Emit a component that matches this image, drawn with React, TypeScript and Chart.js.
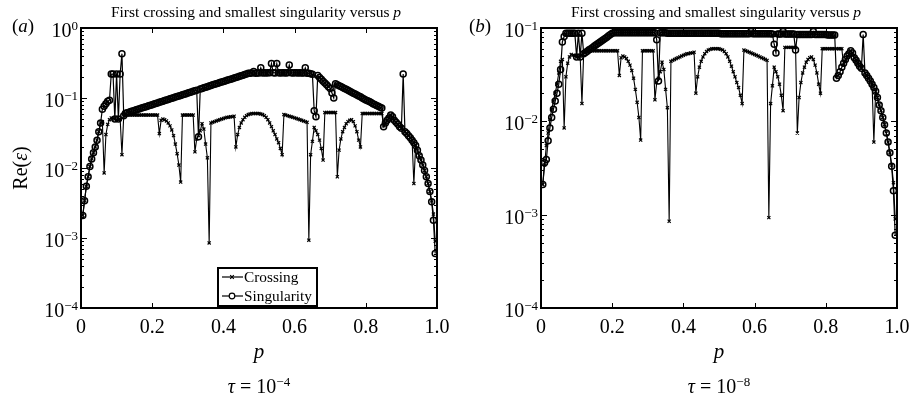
import React, { useEffect, useRef } from "react";
import { Chart, registerables } from "chart.js";

Chart.register(...registerables);

// Sampling grid in p
const P = [
  0.005, 0.01, 0.015, 0.02, 0.025, 0.03, 0.035, 0.04, 0.045, 0.05,
  0.055, 0.06, 0.065, 0.07, 0.075, 0.08, 0.085, 0.09, 0.095, 0.1,
  0.105, 0.11, 0.115, 0.12, 0.125, 0.13, 0.135, 0.14, 0.145, 0.15,
  0.155, 0.16, 0.165, 0.17, 0.175, 0.18, 0.185, 0.19, 0.195, 0.2,
  0.205, 0.21, 0.215, 0.22, 0.225, 0.23, 0.235, 0.24, 0.245, 0.25,
  0.255, 0.26, 0.265, 0.27, 0.275, 0.28, 0.285, 0.29, 0.295, 0.3,
  0.305, 0.31, 0.315, 0.32, 0.325, 0.33, 0.335, 0.34, 0.345, 0.35,
  0.355, 0.36, 0.365, 0.37, 0.375, 0.38, 0.385, 0.39, 0.395, 0.4,
  0.405, 0.41, 0.415, 0.42, 0.425, 0.43, 0.435, 0.44, 0.445, 0.45,
  0.455, 0.46, 0.465, 0.47, 0.475, 0.48, 0.485, 0.49, 0.495, 0.5,
  0.505, 0.51, 0.515, 0.52, 0.525, 0.53, 0.535, 0.54, 0.545, 0.55,
  0.555, 0.56, 0.565, 0.57, 0.575, 0.58, 0.585, 0.59, 0.595, 0.6,
  0.605, 0.61, 0.615, 0.62, 0.625, 0.63, 0.635, 0.64, 0.645, 0.65,
  0.655, 0.66, 0.665, 0.67, 0.675, 0.68, 0.685, 0.69, 0.695, 0.7,
  0.705, 0.71, 0.715, 0.72, 0.725, 0.73, 0.735, 0.74, 0.745, 0.75,
  0.755, 0.76, 0.765, 0.77, 0.775, 0.78, 0.785, 0.79, 0.795, 0.8,
  0.805, 0.81, 0.815, 0.82, 0.825, 0.83, 0.835, 0.84, 0.845, 0.85,
  0.855, 0.86, 0.865, 0.87, 0.875, 0.88, 0.885, 0.89, 0.895, 0.9,
  0.905, 0.91, 0.915, 0.92, 0.925, 0.93, 0.935, 0.94, 0.945, 0.95,
  0.955, 0.96, 0.965, 0.97, 0.975, 0.98, 0.985, 0.99, 0.995,
];

// First crossing (same for both tolerances)
const CROSSING = [
  0.0021, 0.0034, 0.0055, 0.0075, 0.0105, 0.0135, 0.0165, 0.02, 0.025, 0.033,
  0.044, 0.046, 0.0085, 0.03, 0.042, 0.049, 0.052, 0.051, 0.05, 0.049,
  0.049, 0.05, 0.0155, 0.055, 0.057, 0.057, 0.057, 0.057, 0.057, 0.057,
  0.057, 0.057, 0.057, 0.057, 0.057, 0.057, 0.057, 0.057, 0.057, 0.057,
  0.057, 0.057, 0.057, 0.031, 0.048, 0.05, 0.049, 0.047, 0.044, 0.04,
  0.035, 0.029, 0.022, 0.016, 0.011, 0.0063, 0.057, 0.057, 0.057, 0.057,
  0.057, 0.057, 0.057, 0.017, 0.026, 0.029, 0.034, 0.043, 0.036, 0.022,
  0.014, 0.00085, 0.044, 0.045, 0.046, 0.047, 0.048, 0.049, 0.05, 0.051,
  0.052, 0.053, 0.053, 0.054, 0.054, 0.055, 0.02, 0.03, 0.038, 0.044,
  0.049, 0.053, 0.056, 0.058, 0.059, 0.06, 0.06, 0.06, 0.06, 0.06,
  0.059, 0.058, 0.056, 0.053, 0.049, 0.044, 0.039, 0.034, 0.03, 0.026,
  0.023, 0.019, 0.0155, 0.058, 0.057, 0.056, 0.055, 0.054, 0.053, 0.052,
  0.051, 0.05, 0.049, 0.048, 0.047, 0.046, 0.045, 0.00093, 0.0155, 0.024,
  0.038, 0.034, 0.03, 0.025, 0.019, 0.013, 0.062, 0.062, 0.062, 0.062,
  0.062, 0.062, 0.062, 0.0075, 0.018, 0.026, 0.033, 0.038, 0.043, 0.046,
  0.048, 0.049, 0.046, 0.04, 0.033, 0.025, 0.02, 0.06, 0.06, 0.06,
  0.06, 0.06, 0.06, 0.06, 0.06, 0.06, 0.06, 0.06, 0.06, 0.04,
  0.044, 0.048, 0.052, 0.057, 0.054, 0.048, 0.045, 0.042, 0.039, 0.037,
  0.035, 0.033, 0.031, 0.029, 0.027, 0.025, 0.006, 0.021, 0.018, 0.015,
  0.013, 0.011, 0.0092, 0.0075, 0.006, 0.0046, 0.0034, 0.0022, 0.0009,
];

// Smallest singularity, tau = 1e-4
const SING_TAU4 = [
  0.0021, 0.0034, 0.0055, 0.0075, 0.0105, 0.0135, 0.0165, 0.02, 0.025, 0.033,
  0.044, 0.069, 0.076, 0.083, 0.09, 0.093, 0.22, 0.22, 0.05, 0.22,
  0.05, 0.22, 0.43, 0.056, 0.0604, 0.0615, 0.0627, 0.0639, 0.0651, 0.0664,
  0.0677, 0.069, 0.0703, 0.0717, 0.0731, 0.0744, 0.0759, 0.0773, 0.0788, 0.0803,
  0.0819, 0.0835, 0.0851, 0.0867, 0.0884, 0.0901, 0.0918, 0.0936, 0.0954, 0.0972,
  0.0991, 0.101, 0.103, 0.105, 0.107, 0.109, 0.111, 0.113, 0.115, 0.118,
  0.12, 0.122, 0.125, 0.127, 0.129, 0.028, 0.134, 0.137, 0.14, 0.142,
  0.145, 0.148, 0.151, 0.154, 0.157, 0.16, 0.163, 0.166, 0.169, 0.172,
  0.175, 0.179, 0.182, 0.186, 0.189, 0.193, 0.197, 0.2, 0.204, 0.208,
  0.212, 0.216, 0.221, 0.225, 0.226, 0.227, 0.24, 0.226, 0.227, 0.228,
  0.27, 0.228, 0.229, 0.228, 0.229, 0.23, 0.31, 0.229, 0.228, 0.31,
  0.229, 0.228, 0.23, 0.229, 0.228, 0.23, 0.295, 0.229, 0.228, 0.23,
  0.229, 0.228, 0.229, 0.228, 0.227, 0.27, 0.226, 0.225, 0.222, 0.218,
  0.066, 0.054, 0.21, 0.197, 0.185, 0.174, 0.164, 0.154, 0.145, 0.137,
  0.118, 0.1, 0.16, 0.155, 0.15, 0.146, 0.141, 0.137, 0.133, 0.129,
  0.125, 0.121, 0.117, 0.114, 0.11, 0.107, 0.104, 0.1, 0.097, 0.094,
  0.091, 0.089, 0.086, 0.083, 0.081, 0.078, 0.076, 0.074, 0.072, 0.039,
  0.044, 0.048, 0.052, 0.057, 0.054, 0.048, 0.045, 0.042, 0.039, 0.037,
  0.22, 0.033, 0.031, 0.029, 0.027, 0.025, 0.023, 0.021, 0.018, 0.015,
  0.013, 0.011, 0.0092, 0.0075, 0.006, 0.0046, 0.0033, 0.0018, 0.0006,
];

// Smallest singularity, tau = 1e-8
const SING_TAU8 = [
  0.0021, 0.0036, 0.0039, 0.0062, 0.0085, 0.011, 0.0135, 0.0165, 0.02, 0.025,
  0.036, 0.071, 0.081, 0.088, 0.088, 0.088, 0.088, 0.088, 0.088, 0.049,
  0.088, 0.049, 0.088, 0.053, 0.0547, 0.0565, 0.0583, 0.0601, 0.062, 0.064,
  0.0661, 0.0682, 0.0704, 0.0726, 0.0749, 0.0773, 0.0798, 0.0824, 0.085, 0.0877,
  0.089, 0.089, 0.089, 0.089, 0.089, 0.089, 0.089, 0.089, 0.089, 0.089,
  0.089, 0.089, 0.089, 0.089, 0.089, 0.089, 0.089, 0.089, 0.089, 0.089,
  0.089, 0.089, 0.089, 0.089, 0.075, 0.027, 0.089, 0.089, 0.089, 0.089,
  0.088, 0.088, 0.088, 0.088, 0.088, 0.088, 0.088, 0.088, 0.088, 0.088,
  0.088, 0.088, 0.088, 0.088, 0.088, 0.088, 0.088, 0.088, 0.088, 0.088,
  0.088, 0.088, 0.088, 0.088, 0.088, 0.088, 0.088, 0.088, 0.088, 0.088,
  0.087, 0.087, 0.087, 0.087, 0.087, 0.087, 0.087, 0.087, 0.087, 0.087,
  0.087, 0.087, 0.087, 0.087, 0.087, 0.087, 0.087, 0.092, 0.087, 0.087,
  0.087, 0.087, 0.087, 0.087, 0.087, 0.087, 0.087, 0.087, 0.087, 0.086,
  0.067, 0.054, 0.086, 0.086, 0.086, 0.092, 0.086, 0.086, 0.086, 0.086,
  0.086, 0.086, 0.058, 0.085, 0.085, 0.085, 0.085, 0.085, 0.085, 0.085,
  0.085, 0.085, 0.092, 0.085, 0.085, 0.085, 0.085, 0.085, 0.085, 0.085,
  0.084, 0.084, 0.084, 0.084, 0.084, 0.029, 0.031, 0.034, 0.038, 0.042,
  0.046, 0.05, 0.053, 0.057, 0.054, 0.048, 0.045, 0.042, 0.039, 0.037,
  0.085, 0.033, 0.031, 0.029, 0.027, 0.025, 0.023, 0.021, 0.018, 0.015,
  0.013, 0.011, 0.0092, 0.0075, 0.006, 0.0046, 0.0033, 0.0018, 0.0006,
];

const X_TICKS = [0, 0.2, 0.4, 0.6, 0.8, 1.0];
const X_TICK_LABELS = ["0", "0.2", "0.4", "0.6", "0.8", "1.0"];
const Y_EXPONENTS_A = [0, -1, -2, -3, -4];
const Y_EXPONENTS_B = [-1, -2, -3, -4];
const SERIES_NAMES = ["Crossing", "Singularity"];
const TITLE_TEXT = "First crossing and smallest singularity versus ";

const SERIF = '"Liberation Serif", "Times New Roman", Times, serif';
const f = (size: number, italic = false) => `${italic ? "italic " : ""}${size}px ${SERIF}`;

type Run = { text: string; font: string; dy?: number };

function drawRuns(
  ctx: CanvasRenderingContext2D,
  runs: Run[],
  x: number,
  y: number,
  align: "left" | "center" | "right"
) {
  let total = 0;
  for (const r of runs) {
    ctx.font = r.font;
    total += ctx.measureText(r.text).width;
  }
  let cx = align === "left" ? x : align === "center" ? x - total / 2 : x - total;
  ctx.textAlign = "left";
  ctx.textBaseline = "alphabetic";
  for (const r of runs) {
    ctx.font = r.font;
    ctx.fillText(r.text, cx, y + (r.dy || 0));
    cx += ctx.measureText(r.text).width;
  }
}

const minus = (n: number) => (n < 0 ? "\u2212" + Math.abs(n) : String(n));

function drawCross(ctx: CanvasRenderingContext2D, x: number, y: number, r: number) {
  ctx.beginPath();
  ctx.moveTo(x - r, y - r);
  ctx.lineTo(x + r, y + r);
  ctx.moveTo(x - r, y + r);
  ctx.lineTo(x + r, y - r);
  ctx.stroke();
}

type PanelProps = {
  tag: string;
  tauExp: number;
  yMax: number;
  exponents: number[];
  singularity: number[];
  padding: { left: number; right: number; top: number; bottom: number };
  showYTitle: boolean;
  showLegend: boolean;
};

function Panel(props: PanelProps) {
  const ref = useRef<HTMLCanvasElement | null>(null);

  useEffect(() => {
    const canvas = ref.current;
    if (!canvas) return;
    const n = Math.min(P.length, CROSSING.length, props.singularity.length);
    const crossingPts = [];
    const singPts = [];
    for (let i = 0; i < n; i++) {
      crossingPts.push({ x: P[i], y: CROSSING[i] });
      singPts.push({ x: P[i], y: props.singularity[i] });
    }

    const decor = {
      id: "panelDecor",
      afterDraw(chart: any) {
        const ctx: CanvasRenderingContext2D = chart.ctx;
        const { left, right, top, bottom } = chart.chartArea;
        const xs = chart.scales.x;
        const ys = chart.scales.y;
        const cx = (left + right) / 2;
        ctx.save();
        ctx.fillStyle = "#000";
        ctx.strokeStyle = "#000";

        // ticks pointing inward
        ctx.lineWidth = 1;
        for (const v of X_TICKS) {
          const px = Math.round(xs.getPixelForValue(v)) + 0.5;
          ctx.beginPath();
          ctx.moveTo(px, bottom);
          ctx.lineTo(px, bottom - 5);
          ctx.moveTo(px, top);
          ctx.lineTo(px, top + 5);
          ctx.stroke();
        }
        const minExp = Math.min(...props.exponents);
        const maxExp = Math.max(...props.exponents);
        for (let e = minExp; e <= maxExp; e++) {
          const py = Math.round(ys.getPixelForValue(Math.pow(10, e))) + 0.5;
          ctx.beginPath();
          ctx.moveTo(left, py);
          ctx.lineTo(left + 6, py);
          ctx.moveTo(right, py);
          ctx.lineTo(right - 6, py);
          ctx.stroke();
          if (e < maxExp) {
            for (let m = 2; m <= 9; m++) {
              const my = Math.round(ys.getPixelForValue(m * Math.pow(10, e))) + 0.5;
              ctx.beginPath();
              ctx.moveTo(left, my);
              ctx.lineTo(left + 3, my);
              ctx.moveTo(right, my);
              ctx.lineTo(right - 3, my);
              ctx.stroke();
            }
          }
        }

        // frame
        ctx.lineWidth = 2;
        ctx.strokeRect(left, top, right - left, bottom - top);

        // y tick labels
        for (const e of props.exponents) {
          const py = ys.getPixelForValue(Math.pow(10, e));
          drawRuns(
            ctx,
            [
              { text: "10", font: f(20) },
              { text: minus(e), font: f(13), dy: -7 },
            ],
            left - 3,
            py + 9,
            "right"
          );
        }

        // x tick labels
        X_TICKS.forEach((v, i) => {
          const px = xs.getPixelForValue(v);
          drawRuns(ctx, [{ text: X_TICK_LABELS[i], font: f(20) }], px, bottom + 25, "center");
        });

        // axis titles
        drawRuns(ctx, [{ text: "p", font: f(21, true) }], cx, bottom + 50, "center");
        drawRuns(
          ctx,
          [
            { text: "\u03c4", font: f(20, true) },
            { text: " = 10", font: f(20) },
            { text: minus(props.tauExp), font: f(13), dy: -7 },
          ],
          cx,
          bottom + 85,
          "center"
        );

        if (props.showYTitle) {
          ctx.save();
          ctx.translate(27, (top + bottom) / 2);
          ctx.rotate(-Math.PI / 2);
          drawRuns(
            ctx,
            [
              { text: "Re(", font: f(20) },
              { text: "\u03b5", font: f(20, true) },
              { text: ")", font: f(20) },
            ],
            0,
            0,
            "center"
          );
          ctx.restore();
        }

        // panel tag and title
        drawRuns(
          ctx,
          [
            { text: "(", font: f(19) },
            { text: props.tag, font: f(19, true) },
            { text: ")", font: f(19) },
          ],
          12,
          32,
          "left"
        );
        drawRuns(
          ctx,
          [
            { text: TITLE_TEXT, font: f(15.5) },
            { text: "p", font: f(15.5, true) },
          ],
          cx - 3,
          17,
          "center"
        );

        // legend
        if (props.showLegend) {
          const bx = left + 137;
          const by = bottom - 40;
          const bw = 99;
          const bh = 38;
          ctx.fillStyle = "#fff";
          ctx.fillRect(bx, by, bw, bh);
          ctx.lineWidth = 2;
          ctx.strokeRect(bx, by, bw, bh);
          ctx.fillStyle = "#000";
          ctx.lineWidth = 1.2;
          const rows = [by + 9, by + 28];
          rows.forEach((ry, i) => {
            ctx.beginPath();
            ctx.moveTo(bx + 4, ry);
            ctx.lineTo(bx + 25, ry);
            ctx.stroke();
            if (i === 0) {
              drawCross(ctx, bx + 14, ry, 1.8);
            } else {
              ctx.beginPath();
              ctx.arc(bx + 14, ry, 2.8, 0, Math.PI * 2);
              ctx.fillStyle = "#fff";
              ctx.fill();
              ctx.stroke();
              ctx.fillStyle = "#000";
            }
            drawRuns(ctx, [{ text: SERIES_NAMES[i], font: f(15.3) }], bx + 26, ry + 5, "left");
          });
        }
        ctx.restore();
      },
    };

    const chart = new Chart(canvas, {
      type: "line",
      data: {
        datasets: [
          {
            label: SERIES_NAMES[0],
            data: crossingPts,
            borderColor: "#000",
            borderWidth: 1.1,
            pointStyle: "crossRot",
            pointRadius: 2.2,
            pointBorderWidth: 1.2,
            pointBorderColor: "#000",
            pointBackgroundColor: "rgba(0,0,0,0)",
            tension: 0,
          },
          {
            label: SERIES_NAMES[1],
            data: singPts,
            borderColor: "#000",
            borderWidth: 1.2,
            pointStyle: "circle",
            pointRadius: 3,
            pointBorderWidth: 1.5,
            pointBorderColor: "#000",
            pointBackgroundColor: "rgba(255,255,255,0)",
            tension: 0,
          },
        ],
      },
      options: {
        animation: false,
        responsive: false,
        devicePixelRatio: 1,
        events: [],
        layout: { padding: props.padding },
        scales: {
          x: { type: "linear", min: 0, max: 1, display: false },
          y: { type: "logarithmic", min: 1e-4, max: props.yMax, display: false },
        },
        plugins: {
          legend: { display: false },
          tooltip: { enabled: false },
          title: { display: false },
        },
      },
      plugins: [decor],
    } as any);

    return () => chart.destroy();
  }, []);

  return <canvas ref={ref} width={457} height={398} style={{ display: "block" }} />;
}

export default function App() {
  return (
    <div
      style={{
        position: "fixed",
        left: 0,
        top: 0,
        width: 914,
        height: 398,
        background: "#fff",
        display: "flex",
      }}
    >
      <Panel
        tag="a"
        tauExp={-4}
        yMax={1}
        exponents={Y_EXPONENTS_A}
        singularity={SING_TAU4}
        padding={{ left: 81, right: 20, top: 28, bottom: 90 }}
        showYTitle={true}
        showLegend={true}
      />
      <Panel
        tag="b"
        tauExp={-8}
        yMax={0.1}
        exponents={Y_EXPONENTS_B}
        singularity={SING_TAU8}
        padding={{ left: 84, right: 17, top: 28, bottom: 90 }}
        showYTitle={false}
        showLegend={false}
      />
    </div>
  );
}
